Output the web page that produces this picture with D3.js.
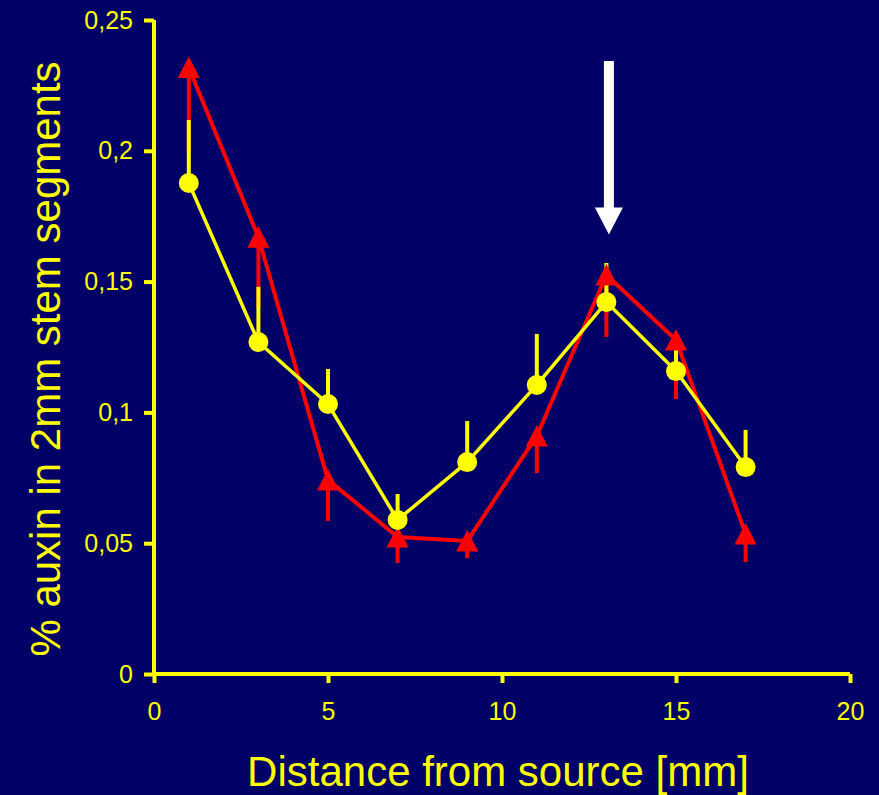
<!DOCTYPE html>
<html>
<head>
<meta charset="utf-8">
<script src="https://cdn.jsdelivr.net/npm/d3@7"></script>
<style>
  html, body { margin: 0; padding: 0; background: #000066; }
  svg { display: block; }
</style>
</head>
<body>
<div id="chart"></div>
<script>
// distance from source [mm]
const distances = [1, 3, 5, 7, 9, 11, 13, 15, 17];
// yellow series (circles), error bar goes up
const yellowValues = [0.1877, 0.1269, 0.1032, 0.0589, 0.081, 0.1105, 0.1422, 0.1158, 0.0791];
const yellowErrTop = [0.2118, 0.148, 0.1166, 0.0688, 0.0967, 0.13, 0.1571, 0.1239, 0.0933];
// red series (triangles), error bar goes down
const redValues = [0.2318, 0.167, 0.0742, 0.0524, 0.0508, 0.091, 0.1525, 0.1277, 0.0535];
const redErrLow = [0.2, 0.14, 0.0585, 0.0424, 0.0443, 0.0768, 0.1288, 0.1051, 0.0428];

const xTicks = [0, 5, 10, 15, 20];
const yTicks = [0, 0.05, 0.1, 0.15, 0.2, 0.25];
const yTickLabels = ['0', '0,05', '0,1', '0,15', '0,2', '0,25'];

// white arrow pointing at the peak
const arrow = { x: 13, from: 0.2343, to: 0.168 };

const size = { width: 879, height: 795 };
const bg = '#000066';
const yellow = '#ffff00';
const red = '#ff0000';

const svg = d3.select('#chart')
  .append('svg')
  .attr('width', size.width)
  .attr('height', size.height)
  .style('background', bg);

svg.append('rect')
  .attr('width', size.width)
  .attr('height', size.height)
  .attr('fill', bg);

const x = d3.scaleLinear().domain([0, 20]).range([154, 850]);
const y = d3.scaleLinear().domain([0, 0.25]).range([674, 20]);

const font = 'Liberation Sans, Arial, sans-serif';

// axes
const xAxis = svg.append('g')
  .attr('transform', `translate(0,${y(0)})`)
  .call(d3.axisBottom(x).tickValues(xTicks).tickSize(9).tickPadding(19).tickSizeOuter(0));
const yAxis = svg.append('g')
  .attr('transform', `translate(${x(0)},0)`)
  .call(d3.axisLeft(y).tickValues(yTicks).tickSize(10).tickPadding(11).tickSizeOuter(0)
    .tickFormat((d, i) => yTickLabels[i]));

[xAxis, yAxis].forEach((g) => {
  g.select('.domain').attr('stroke', yellow).attr('stroke-width', 4);
  g.selectAll('.tick line').attr('stroke', yellow).attr('stroke-width', 4);
  g.selectAll('.tick text')
    .attr('fill', yellow)
    .style('font-family', font)
    .style('font-size', '25px');
});
// axis lines should meet at the corner
xAxis.select('.domain').attr('d', `M${x(0) - 2},0H${x(20)}`);
yAxis.select('.domain').attr('d', `M0,${y(0.25)}V${y(0) + 2}`);

// axis titles
svg.append('text')
  .attr('x', 498)
  .attr('y', 786)
  .attr('text-anchor', 'middle')
  .attr('fill', yellow)
  .style('font-family', font)
  .style('font-size', '42px')
  .text('Distance from source [mm]');

svg.append('text')
  .attr('transform', 'translate(60,359) rotate(-90)')
  .attr('text-anchor', 'middle')
  .attr('fill', yellow)
  .style('font-family', font)
  .style('font-size', '42px')
  .text('% auxin in 2mm stem segments');

const line = d3.line().x((d) => x(d[0])).y((d) => y(d[1]));
const redData = distances.map((d, i) => [d, redValues[i], redErrLow[i]]);
const yellowData = distances.map((d, i) => [d, yellowValues[i], yellowErrTop[i]]);

// lines
svg.append('path')
  .datum(redData)
  .attr('d', line)
  .attr('fill', 'none')
  .attr('stroke', red)
  .attr('stroke-width', 4)
  .attr('stroke-linejoin', 'round');

svg.append('path')
  .datum(yellowData)
  .attr('d', line)
  .attr('fill', 'none')
  .attr('stroke', yellow)
  .attr('stroke-width', 3.5)
  .attr('stroke-linejoin', 'round');

// error bars
svg.append('g')
  .selectAll('line')
  .data(redData)
  .enter()
  .append('line')
  .attr('x1', (d) => x(d[0]))
  .attr('x2', (d) => x(d[0]))
  .attr('y1', (d) => y(d[1]))
  .attr('y2', (d) => y(d[2]))
  .attr('stroke', red)
  .attr('stroke-width', 4);

svg.append('g')
  .selectAll('line')
  .data(yellowData)
  .enter()
  .append('line')
  .attr('x1', (d) => x(d[0]))
  .attr('x2', (d) => x(d[0]))
  .attr('y1', (d) => y(d[1]))
  .attr('y2', (d) => y(d[2]))
  .attr('stroke', yellow)
  .attr('stroke-width', 4);

// markers
svg.append('g')
  .selectAll('path')
  .data(redData)
  .enter()
  .append('path')
  .attr('transform', (d) => `translate(${x(d[0])},${y(d[1])})`)
  .attr('d', 'M0,-11L11,10.5L-11,10.5Z')
  .attr('fill', red);

svg.append('g')
  .selectAll('circle')
  .data(yellowData)
  .enter()
  .append('circle')
  .attr('cx', (d) => x(d[0]))
  .attr('cy', (d) => y(d[1]))
  .attr('r', 10)
  .attr('fill', yellow);

// arrow
const ax = x(arrow.x) + 2.5;
const aTop = y(arrow.from);
const aTip = y(arrow.to);
svg.append('path')
  .attr('d', `M${ax - 5},${aTop}H${ax + 5}V${aTip - 27}H${ax + 14}L${ax},${aTip}L${ax - 14},${aTip - 27}H${ax - 5}Z`)
  .attr('fill', '#ffffff');
</script>
</body>
</html>
